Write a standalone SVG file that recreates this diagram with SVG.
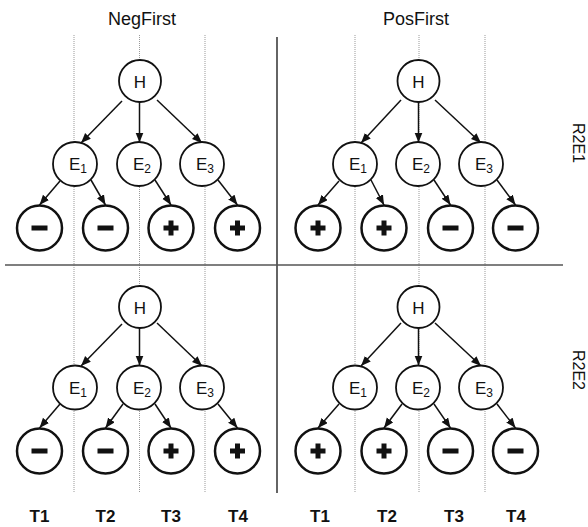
<svg xmlns="http://www.w3.org/2000/svg" width="588" height="527" viewBox="0 0 588 527">
<style>
  text { font-family: "Liberation Sans", Arial, sans-serif; fill: #111; }
  .title { font-size: 18px; text-anchor: middle; }
  .tl { font-size: 17px; font-weight: bold; text-anchor: middle; }
  .side { font-size: 16px; text-anchor: middle; }
  .nd { fill: #fff; stroke: #111; stroke-width: 1.8; }
  .leaf { fill: #fff; stroke: #111; stroke-width: 2.5; }
  .nt { font-size: 17px; text-anchor: middle; }
  .sub { font-size: 12px; }
  .sym { fill: #111; }
  .dot { stroke: #999; stroke-width: 1; stroke-dasharray: 1 1; }
  .edge { stroke: #111; stroke-width: 1.5; fill: none; marker-end: url(#ah); }
</style>
<defs>
  <marker id="ah" markerUnits="userSpaceOnUse" markerWidth="11" markerHeight="9" refX="10" refY="4" orient="auto">
    <path d="M0,0 L10,4 L0,8 z" fill="#111"/>
  </marker>
  <g id="minus"><rect x="-8" y="-2.5" width="16" height="5" class="sym"/></g>
  <g id="plus"><rect x="-7.5" y="-2.5" width="15" height="5" class="sym"/><rect x="-2.5" y="-7.5" width="5" height="15" class="sym"/></g>
</defs>
<rect width="588" height="527" fill="#fff"/>

<g id="grid">
  <line class="dot" x1="74" y1="35" x2="74" y2="493"/>
  <line class="dot" x1="139.5" y1="35" x2="139.5" y2="493"/>
  <line class="dot" x1="205" y1="35" x2="205" y2="493"/>
  <line class="dot" x1="355" y1="35" x2="355" y2="493"/>
  <line class="dot" x1="419" y1="35" x2="419" y2="493"/>
  <line class="dot" x1="485" y1="35" x2="485" y2="493"/>
  <line x1="277" y1="37" x2="277" y2="493" stroke="#111" stroke-width="1.3"/>
  <line x1="5" y1="265" x2="563" y2="265" stroke="#555" stroke-width="1.3"/>
</g>

<g id="labels">
  <text class="title" x="142" y="25">NegFirst</text>
  <text class="title" x="416" y="25">PosFirst</text>
  <text class="side" transform="translate(578,143) rotate(90)" dominant-baseline="central">R2E1</text>
  <text class="side" transform="translate(578,370) rotate(90)" dominant-baseline="central">R2E2</text>
  <text class="tl" x="39.5" y="522">T1</text>
  <text class="tl" x="105.5" y="522">T2</text>
  <text class="tl" x="171" y="522">T3</text>
  <text class="tl" x="238" y="522">T4</text>
  <text class="tl" x="320" y="522">T1</text>
  <text class="tl" x="387" y="522">T2</text>
  <text class="tl" x="454" y="522">T3</text>
  <text class="tl" x="516" y="522">T4</text>
</g>

<g id="connectors">
  <!-- top-left -->
  <line class="edge" x1="122" y1="101" x2="81" y2="143"/>
  <line class="edge" x1="139.5" y1="102" x2="139.5" y2="142.5"/>
  <line class="edge" x1="157" y1="100" x2="202" y2="143"/>
  <line class="edge" x1="60" y1="181" x2="39.5" y2="205"/>
  <line class="edge" x1="91" y1="180" x2="105.5" y2="205"/>
  <line class="edge" x1="155" y1="180" x2="171" y2="205"/>
  <line class="edge" x1="218" y1="180" x2="237.5" y2="205"/>
  <!-- top-right -->
  <line class="edge" x1="401" y1="100" x2="361" y2="143"/>
  <line class="edge" x1="418.5" y1="102" x2="418.5" y2="142.5"/>
  <line class="edge" x1="435" y1="100" x2="481" y2="143"/>
  <line class="edge" x1="339" y1="181" x2="318" y2="205"/>
  <line class="edge" x1="371" y1="180" x2="384" y2="205"/>
  <line class="edge" x1="434" y1="180" x2="450.5" y2="205"/>
  <line class="edge" x1="497" y1="180" x2="515.5" y2="205"/>
  <!-- bottom-left -->
  <line class="edge" x1="122" y1="324" x2="81" y2="366"/>
  <line class="edge" x1="139.5" y1="328" x2="139.5" y2="365.5"/>
  <line class="edge" x1="157" y1="323" x2="202" y2="366"/>
  <line class="edge" x1="60" y1="404" x2="39.5" y2="428"/>
  <line class="edge" x1="123" y1="404" x2="105.5" y2="428"/>
  <line class="edge" x1="155" y1="404" x2="171" y2="428"/>
  <line class="edge" x1="218" y1="404" x2="237.5" y2="428"/>
  <!-- bottom-right -->
  <line class="edge" x1="401" y1="323" x2="361" y2="366"/>
  <line class="edge" x1="418.5" y1="328" x2="418.5" y2="365.5"/>
  <line class="edge" x1="435" y1="323" x2="481" y2="366"/>
  <line class="edge" x1="339" y1="404" x2="318" y2="428"/>
  <line class="edge" x1="402" y1="404" x2="384" y2="428"/>
  <line class="edge" x1="434" y1="404" x2="450.5" y2="428"/>
  <line class="edge" x1="497" y1="404" x2="515.5" y2="428"/>
</g>

<!-- top-left tree -->
<g id="tl-H"><circle class="nd" cx="140" cy="81" r="21"/><text class="nt" x="140" y="87.5" font-size="18">H</text></g>
<g id="tl-E1"><circle class="nd" cx="75" cy="164" r="22"/><text class="nt" x="78" y="170">E<tspan class="sub" dy="3">1</tspan></text></g>
<g id="tl-E2"><circle class="nd" cx="139" cy="164" r="22"/><text class="nt" x="142" y="170">E<tspan class="sub" dy="3">2</tspan></text></g>
<g id="tl-E3"><circle class="nd" cx="202" cy="164" r="22"/><text class="nt" x="205" y="170">E<tspan class="sub" dy="3">3</tspan></text></g>
<g id="tl-L1"><circle class="leaf" cx="39.5" cy="228" r="22.5"/><use href="#minus" x="39.5" y="228"/></g>
<g id="tl-L2"><circle class="leaf" cx="105.5" cy="228" r="22.5"/><use href="#minus" x="105.5" y="228"/></g>
<g id="tl-L3"><circle class="leaf" cx="171" cy="228" r="22.5"/><use href="#plus" x="171" y="228"/></g>
<g id="tl-L4"><circle class="leaf" cx="237.5" cy="228" r="22.5"/><use href="#plus" x="237.5" y="228"/></g>

<!-- top-right tree -->
<g id="tr-H"><circle class="nd" cx="418.5" cy="81" r="21"/><text class="nt" x="418.5" y="87.5" font-size="18">H</text></g>
<g id="tr-E1"><circle class="nd" cx="355" cy="164" r="22"/><text class="nt" x="358" y="170">E<tspan class="sub" dy="3">1</tspan></text></g>
<g id="tr-E2"><circle class="nd" cx="418" cy="164" r="22"/><text class="nt" x="421" y="170">E<tspan class="sub" dy="3">2</tspan></text></g>
<g id="tr-E3"><circle class="nd" cx="481" cy="164" r="22"/><text class="nt" x="484" y="170">E<tspan class="sub" dy="3">3</tspan></text></g>
<g id="tr-L1"><circle class="leaf" cx="318" cy="228" r="22.5"/><use href="#plus" x="318" y="228"/></g>
<g id="tr-L2"><circle class="leaf" cx="384" cy="228" r="22.5"/><use href="#plus" x="384" y="228"/></g>
<g id="tr-L3"><circle class="leaf" cx="450.5" cy="228" r="22.5"/><use href="#minus" x="450.5" y="228"/></g>
<g id="tr-L4"><circle class="leaf" cx="515.5" cy="228" r="22.5"/><use href="#minus" x="515.5" y="228"/></g>

<!-- bottom-left tree -->
<g id="bl-H"><circle class="nd" cx="140" cy="307" r="21"/><text class="nt" x="140" y="313.5" font-size="18">H</text></g>
<g id="bl-E1"><circle class="nd" cx="75" cy="387.5" r="22"/><text class="nt" x="78" y="393.5">E<tspan class="sub" dy="3">1</tspan></text></g>
<g id="bl-E2"><circle class="nd" cx="139" cy="387.5" r="22"/><text class="nt" x="142" y="393.5">E<tspan class="sub" dy="3">2</tspan></text></g>
<g id="bl-E3"><circle class="nd" cx="202" cy="387.5" r="22"/><text class="nt" x="205" y="393.5">E<tspan class="sub" dy="3">3</tspan></text></g>
<g id="bl-L1"><circle class="leaf" cx="39.5" cy="451" r="22.5"/><use href="#minus" x="39.5" y="451"/></g>
<g id="bl-L2"><circle class="leaf" cx="105.5" cy="451" r="22.5"/><use href="#minus" x="105.5" y="451"/></g>
<g id="bl-L3"><circle class="leaf" cx="171" cy="451" r="22.5"/><use href="#plus" x="171" y="451"/></g>
<g id="bl-L4"><circle class="leaf" cx="237.5" cy="451" r="22.5"/><use href="#plus" x="237.5" y="451"/></g>

<!-- bottom-right tree -->
<g id="br-H"><circle class="nd" cx="418.5" cy="307" r="21"/><text class="nt" x="418.5" y="313.5" font-size="18">H</text></g>
<g id="br-E1"><circle class="nd" cx="355" cy="387.5" r="22"/><text class="nt" x="358" y="393.5">E<tspan class="sub" dy="3">1</tspan></text></g>
<g id="br-E2"><circle class="nd" cx="418" cy="387.5" r="22"/><text class="nt" x="421" y="393.5">E<tspan class="sub" dy="3">2</tspan></text></g>
<g id="br-E3"><circle class="nd" cx="481" cy="387.5" r="22"/><text class="nt" x="484" y="393.5">E<tspan class="sub" dy="3">3</tspan></text></g>
<g id="br-L1"><circle class="leaf" cx="318" cy="451" r="22.5"/><use href="#plus" x="318" y="451"/></g>
<g id="br-L2"><circle class="leaf" cx="384" cy="451" r="22.5"/><use href="#plus" x="384" y="451"/></g>
<g id="br-L3"><circle class="leaf" cx="450.5" cy="451" r="22.5"/><use href="#minus" x="450.5" y="451"/></g>
<g id="br-L4"><circle class="leaf" cx="515.5" cy="451" r="22.5"/><use href="#minus" x="515.5" y="451"/></g>
</svg>
